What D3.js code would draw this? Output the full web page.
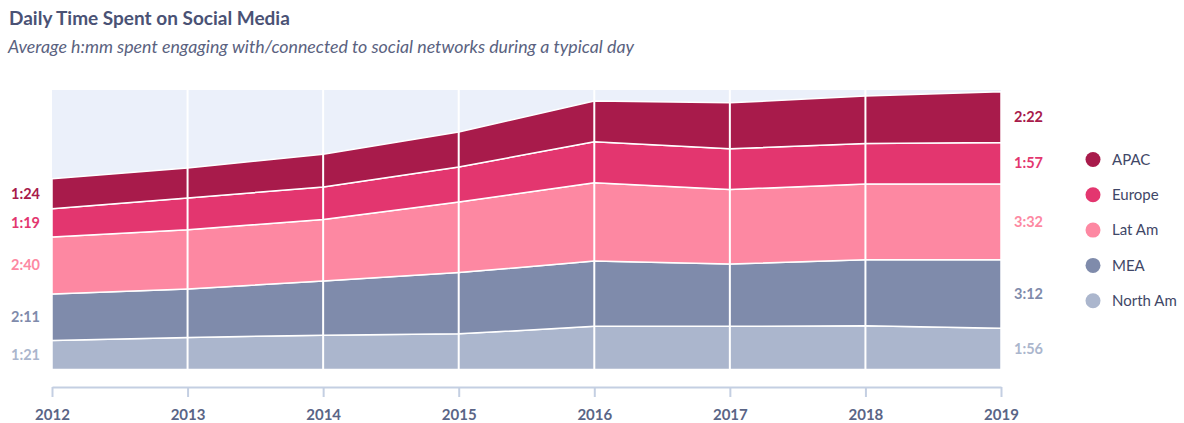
<html>
<head>
<meta charset="utf-8">
<script src="https://cdn.jsdelivr.net/npm/d3@7"></script>
<style>
  body { margin: 0; background: #fff; font-family: Lato, "Open Sans", sans-serif; }
</style>
</head>
<body>
<div id="chart"></div>
<script>

// minutes per day
var years = [2012, 2013, 2014, 2015, 2016, 2017, 2018, 2019];
var northAm = [81, 90, 96, 100, 121, 121, 123, 116];
var mea     = [131, 136, 152, 172, 183, 175, 185, 192];
var latAm   = [160, 166, 173, 198, 220, 209, 212, 212];
var europe  = [79, 89, 91, 98, 115, 114, 114, 117];
var apac    = [84, 84, 92, 98, 114, 129, 133, 142];

var seriesNames = ["North Am", "MEA", "Lat Am", "Europe", "APAC"];
var seriesValues = [northAm, mea, latAm, europe, apac];
var colors = ["#abb6cd", "#7f8bab", "#fd88a2", "#e3366f", "#a81b4b"];

var W = 1184, H = 423;
var plotL = 52, plotR = 1001, plotT = 90, plotB = 369.5;

var svg = d3.select("#chart").append("svg")
  .attr("width", W).attr("height", H);

// title
svg.append("text")
  .attr("x", 9).attr("y", 25)
  .attr("font-size", 19).attr("font-weight", 700)
  .attr("fill", "#4a5275")
  .text("Daily Time Spent on Social Media");
svg.append("text")
  .attr("x", 8).attr("y", 53)
  .attr("font-size", 17.8).attr("font-style", "italic")
  .attr("fill", "#5a6280")
  .text("Average h:mm spent engaging with/connected to social networks during a typical day");

var table = years.map(function(y, i) {
  var row = {year: y};
  seriesNames.forEach(function(n, k) { row[n] = seriesValues[k][i]; });
  return row;
});

var x = d3.scalePoint().domain(years).range([plotL, plotR]);
var y = d3.scaleLinear().domain([0, 784]).range([plotB, plotT]);

var stack = d3.stack().keys(seriesNames)(table);

// plot background
svg.append("rect")
  .attr("x", plotL).attr("y", plotT)
  .attr("width", plotR - plotL).attr("height", plotB - plotT)
  .attr("fill", "#ebf0fa");

var area = d3.area()
  .x(function(d) { return x(d.data.year); })
  .y0(function(d) { return y(d[0]); })
  .y1(function(d) { return y(d[1]); });

svg.selectAll(".layer")
  .data(stack)
  .enter().append("path")
    .attr("class", "layer")
    .attr("d", area)
    .attr("fill", function(d, i) { return colors[i]; })
    .attr("stroke", "#fff")
    .attr("stroke-width", 1.5)
    .attr("stroke-linejoin", "round");

// vertical white grid
svg.selectAll(".grid")
  .data(years.slice(1, -1))
  .enter().append("line")
    .attr("x1", function(d) { return x(d); })
    .attr("x2", function(d) { return x(d); })
    .attr("y1", plotT).attr("y2", plotB)
    .attr("stroke", "#fff")
    .attr("stroke-width", 2);

// x axis bracket
var axis = svg.append("g")
  .attr("transform", "translate(0,387)")
  .call(d3.axisBottom(x).tickSize(10).tickSizeOuter(0).tickPadding(12));
axis.select(".domain").attr("stroke", "#c4cfe2").attr("stroke-width", 2);
axis.selectAll(".tick line").attr("stroke", "#c4cfe2").attr("stroke-width", 2);
axis.selectAll(".tick text")
  .attr("font-family", "Lato, sans-serif")
  .attr("font-size", 15).attr("font-weight", 700)
  .attr("fill", "#5a6586");

function hmm(m) {
  var h = Math.floor(m / 60), r = m % 60;
  return h + ":" + (r < 10 ? "0" : "") + r;
}

// value labels at the ends
var first = 0, last = years.length - 1;
stack.forEach(function(s, i) {
  var a = s[first], b = s[last];
  svg.append("text")
    .attr("x", 40).attr("y", y((a[0] + a[1]) / 2))
    .attr("dy", "0.35em")
    .attr("text-anchor", "end")
    .attr("font-size", 14.5).attr("font-weight", 700)
    .attr("fill", colors[i])
    .text(hmm(seriesValues[i][first]));
  svg.append("text")
    .attr("x", 1014).attr("y", y((b[0] + b[1]) / 2))
    .attr("dy", "0.35em")
    .attr("font-size", 14.5).attr("font-weight", 700)
    .attr("fill", colors[i])
    .text(hmm(seriesValues[i][last]));
});

// legend, top series first
var legendNames = seriesNames.slice().reverse();
var legend = svg.selectAll(".leg")
  .data(legendNames)
  .enter().append("g")
    .attr("transform", function(d, i) { return "translate(1093," + (159.5 + i * 35.3) + ")"; });
legend.append("circle")
  .attr("r", 7.5)
  .attr("fill", function(d) { return colors[seriesNames.indexOf(d)]; });
legend.append("text")
  .attr("x", 19).attr("dy", "0.35em")
  .attr("font-size", 15)
  .attr("fill", "#3f4767")
  .text(function(d) { return d; });

</script>
</body>
</html>
